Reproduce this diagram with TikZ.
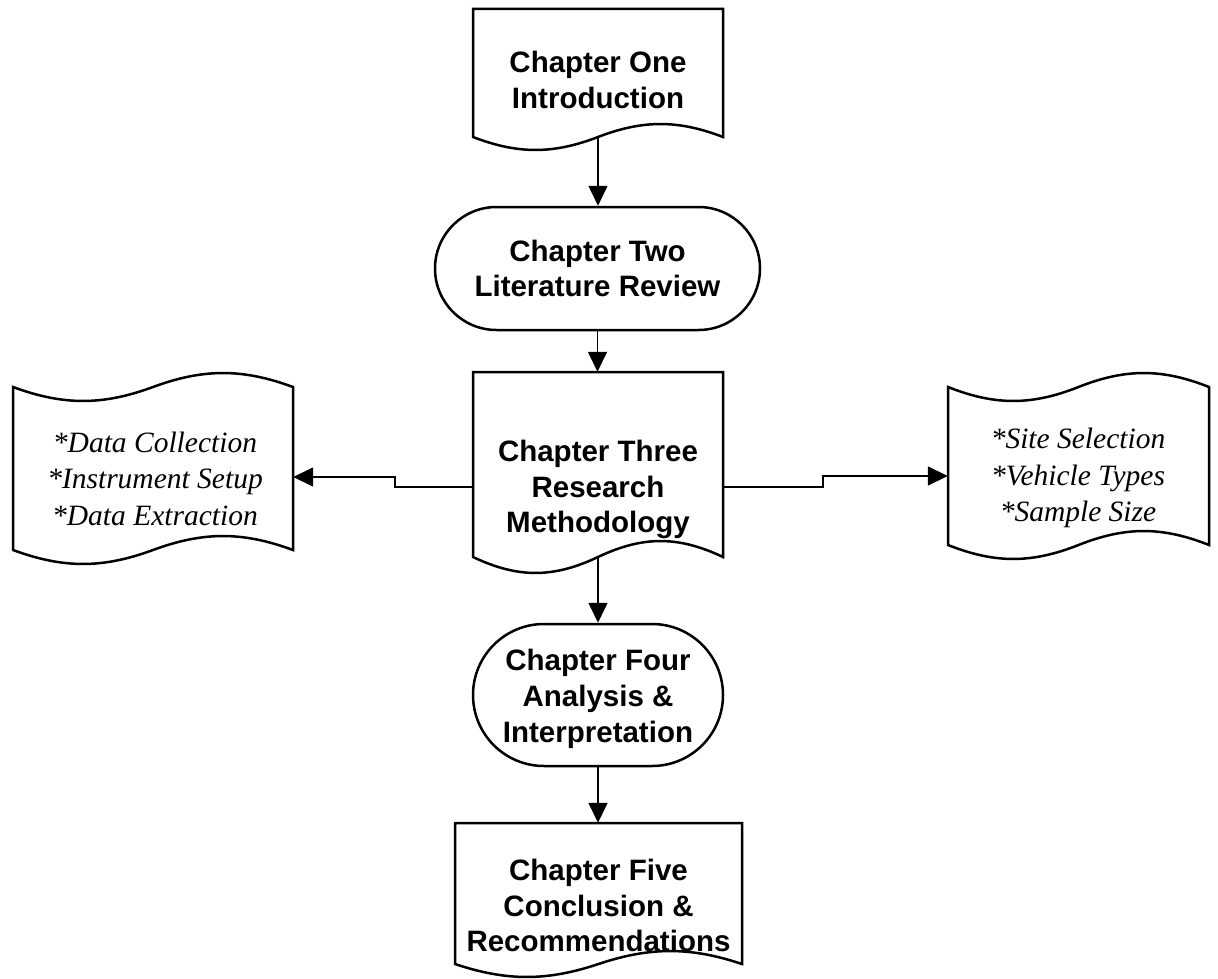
\documentclass[tikz,border=0pt]{standalone}
\usepackage{fontspec}
\newfontfamily\sansb{Liberation Sans}
\newfontfamily\serifi{Liberation Serif}
\usetikzlibrary{arrows.meta}
\tikzset{
  outline/.style={draw=black, line width=2.5pt, line join=miter},
  box/.style={draw=none, inner sep=0pt},
  btext/.style={align=center, inner sep=0pt, font=\sansb\bfseries\fontsize{29.5pt}{35.8pt}\selectfont},
  itext/.style={align=center, inner sep=0pt, font=\serifi\itshape\fontsize{29.5pt}{36.5pt}\selectfont},
  conn/.style={draw=black, line width=1.6pt, -{Triangle[length=20pt,width=19pt]}},
}
% wave from right (x2,y) to left (x1,y): crest at 3/4, trough at 1/4, amplitude h
\def\waveRL#1#2#3#4{% x1 x2 y h
  .. controls ({#1+0.82*(#2-#1)},{#3-1.33*#4}) and ({#1+0.68*(#2-#1)},{#3-1.33*#4}) .. ({#1+0.5*(#2-#1)},#3)
  .. controls ({#1+0.32*(#2-#1)},{#3+1.33*#4}) and ({#1+0.18*(#2-#1)},{#3+1.33*#4}) .. (#1,#3)}
\def\waveLR#1#2#3#4{% x1 x2 y h
  .. controls ({#1+0.18*(#2-#1)},{#3+1.33*#4}) and ({#1+0.32*(#2-#1)},{#3+1.33*#4}) .. ({#1+0.5*(#2-#1)},#3)
  .. controls ({#1+0.68*(#2-#1)},{#3-1.33*#4}) and ({#1+0.82*(#2-#1)},{#3-1.33*#4}) .. (#2,#3)}
% document shape: x1 y1 x2 yb h
\newcommand\docpath[5]{%
  \draw[outline] (#1,#4) -- (#1,#2) -- (#3,#2) -- (#3,#4) \waveRL{#1}{#3}{#4}{#5} -- cycle;}
% tape shape: x1 yt x2 yb h
\newcommand\tapepath[5]{%
  \draw[outline] (#1,#2) \waveLR{#1}{#3}{#2}{#5} -- (#3,#4) \waveRL{#1}{#3}{#4}{#5} -- cycle;}
\begin{document}
\begin{tikzpicture}[x=1pt,y=-1pt]
\useasboundingbox (0,0) rectangle (1218,979);
% Chapter One (document)
\docpath{473}{9}{723}{137}{13}
\node[box, minimum width=250pt, minimum height=128pt] (c1) at (598,73) {};
\node[btext] (c1t) at (598,80) {Chapter One\\Introduction};
% Chapter Two (terminator)
\node[outline, rounded corners=61.5pt, minimum width=325pt, minimum height=123pt, inner sep=0pt] (c2) at (597.5,268.5) {};
\node[btext] (c2t) at (597.5,268.5) {Chapter Two\\Literature Review};
% Chapter Three (document)
\docpath{473}{372}{723}{557}{16}
\node[box, minimum width=250pt, minimum height=185pt] (c3) at (598,464.5) {};
\node[btext] (c3t) at (598,489.5) {Chapter Three\\Research\\Methodology};
% Chapter Four (terminator)
\node[outline, rounded corners=71pt, minimum width=250pt, minimum height=142pt, inner sep=0pt] (c4) at (598,695) {};
\node[btext] (c4t) at (598,699) {Chapter Four\\Analysis \&\\Interpretation};
% Chapter Five (document)
\docpath{455}{823}{742}{964}{13}
\node[box, minimum width=287pt, minimum height=141pt] (c5) at (598.5,893.5) {};
\node[btext] (c5t) at (598.5,905.5) {Chapter Five\\Conclusion \&\\Recommendations};
% left tape
\tapepath{13}{387}{293}{550}{14}
\node[box, minimum width=280pt, minimum height=163pt] (lt) at (153,468.5) {};
\node[itext] (ltt) at (155,478.5) {*Data Collection\\*Instrument Setup\\*Data Extraction};
% right tape
\tapepath{948}{387}{1209}{545}{14}
\node[box, minimum width=261pt, minimum height=158pt] (rt) at (1078.5,466) {};
\node[itext] (rtt) at (1078,478) {*Site Selection\\*Vehicle Types\\*Sample Size};
% connectors
\draw[conn] (c1.south) -- (c1.south |- c2.north);
\draw[conn] (c2.north |- c2.south) -- (c2.north |- c3.north);
\draw[conn] (c3.south) -- (c3.south |- c4.north);
\draw[conn] (c4.south) -- (c4.south |- c5.north);
\draw[conn] ([yshift=-22.5pt]c3.west) -- ++(-78,0) |- ([yshift=-8.5pt]lt.east);
\draw[conn] ([yshift=-22.5pt]c3.east) -- ++(100,0) |- ([yshift=-10pt]rt.west);
\end{tikzpicture}
\end{document}
